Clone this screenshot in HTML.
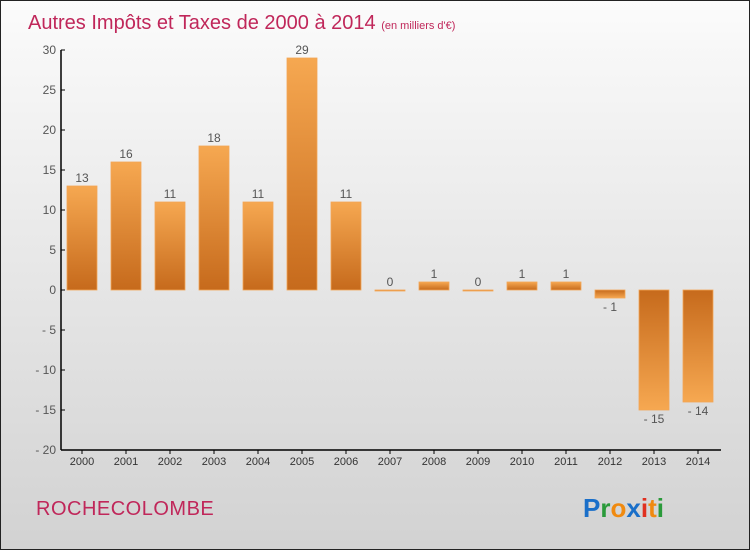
<!DOCTYPE html>
<html><head><meta charset="utf-8"><style>
body{margin:0}
#wrap{position:relative;width:748px;height:548px;border:1px solid #222;background:linear-gradient(#fbfbfb,#d2d2d2);font-family:"Liberation Sans",sans-serif;overflow:hidden}
</style></head><body>
<div id="wrap">
<svg id="c" width="748" height="548">
<defs>
<linearGradient id="gp" x1="0" y1="0" x2="0" y2="1"><stop offset="0" stop-color="#f6a851"/><stop offset="1" stop-color="#c66a1c"/></linearGradient>
<linearGradient id="gn" x1="0" y1="0" x2="0" y2="1"><stop offset="0" stop-color="#c66a1c"/><stop offset="1" stop-color="#f6a851"/></linearGradient>
</defs>
<text x="27" y="28" font-size="20" fill="#c0275a">Autres Impôts et Taxes de 2000 à 2014 <tspan font-size="11">(en milliers d'€)</tspan></text>
<text x="35" y="514" font-size="20" fill="#c0275a" letter-spacing="0.5">ROCHECOLOMBE</text>
<text x="582" y="516" font-size="26" font-weight="bold"><tspan fill="#1a6fc9">P</tspan><tspan fill="#2a9a3a">r</tspan><tspan fill="#f08a10">o</tspan><tspan fill="#1a6fc9">x</tspan><tspan fill="#e03020">i</tspan><tspan fill="#f08a10">t</tspan><tspan fill="#2a9a3a">i</tspan></text>
<g id="plot"></g>
</svg>
</div>
<script>
const years=["2000","2001","2002","2003","2004","2005","2006","2007","2008","2009","2010","2011","2012","2013","2014"];
const values=[13,16,11,18,11,29,11,0,1,0,1,1,-1,-15,-14];
const labels=["13","16","11","18","11","29","11","0","1","0","1","1","-1","-15","-14"];
const yTicks=[30,25,20,15,10,5,0,-5,-10,-15,-20];
const NS="http://www.w3.org/2000/svg";
const g=document.getElementById('plot');
const y=v=>289-(v)*8;
const x=i=>81+i*44;
function mk(t,a){const e=document.createElementNS(NS,t);for(const k in a)e.setAttribute(k,a[k]);g.appendChild(e);return e;}
let ax=mk('line',{x1:60,y1:y(30),x2:60,y2:y(-20),stroke:'#000','stroke-width':1.5});


let bx=mk('line',{x1:60,y1:y(-20),x2:720,y2:y(-20),stroke:'#000','stroke-width':1.5});


yTicks.forEach(v=>{
 mk('line',{x1:60,y1:y(v),x2:64,y2:y(v),stroke:'#000'});
 const t=mk('text',{x:55,y:y(v)+4,'font-size':12,fill:'#555','text-anchor':'end'});
 t.textContent=v<0?'- '+(-v):String(v);
 
 
});
years.forEach((yr,i)=>{
 const v=values[i];
 mk('line',{x1:x(i),y1:y(-20),x2:x(i),y2:y(-20)+4,stroke:'#000'});
 const t=mk('text',{x:x(i),y:y(-20)+15,'font-size':11,fill:'#333','text-anchor':'middle'});
 t.textContent=yr;
 
 
 const top=Math.min(y(v),y(0)),h=Math.max(Math.abs(y(v)-y(0)),1);
 const r=mk('rect',{x:x(i)-15,y:top,width:30,height:h,fill:v<0?'url(#gn)':'url(#gp)',stroke:'#f3a555','stroke-width':0.8});
 
 
 const l=mk('text',{x:x(i),y:v<0?y(v)+13:y(v)-4,'font-size':12,fill:'#555','text-anchor':'middle'});
 l.textContent=v<0?'- '+(-v):labels[i];
 
 
});
</script>
</body></html>
